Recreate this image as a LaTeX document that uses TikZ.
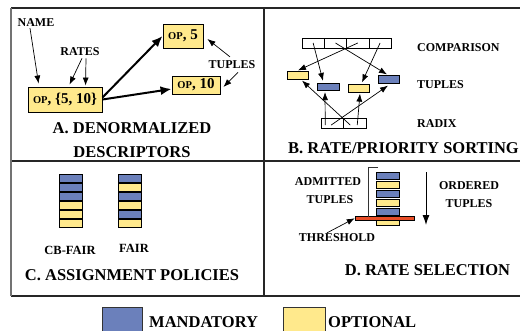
\documentclass[tikz,border=0pt]{standalone}
\usepackage{fontspec}
\setmainfont{Liberation Serif}
\usetikzlibrary{arrows.meta}

\definecolor{mand}{RGB}{107,128,187}
\definecolor{opt}{RGB}{255,233,140}
\definecolor{thrcol}{RGB}{232,78,40}

% small-capital "op" used inside the descriptor boxes
\newcommand{\opsc}{{\fontsize{10.5pt}{10.5pt}\selectfont OP}}

\begin{document}
\begin{tikzpicture}[x=1pt,y=-1pt,
  frame/.style={line width=1.1pt, draw=black!85},
  lbl/.style={inner sep=0pt, anchor=base, font=\fontsize{12pt}{12pt}\selectfont\bfseries},
  ttl/.style={inner sep=0pt, anchor=base, font=\fontsize{16.5pt}{16.5pt}\selectfont\bfseries},
  opbox/.style={draw=black, line width=0.9pt, fill=opt, inner sep=0pt,
                font=\fontsize{15pt}{15pt}\selectfont\bfseries},
  cell/.style={draw=black, line width=0.6pt, fill=white, minimum width=22.3pt,
               minimum height=10pt, inner sep=0pt},
  tup/.style={draw=black, line width=0.7pt, minimum width=22pt, minimum height=7.5pt, inner sep=0pt},
  mtup/.style={tup, fill=mand},
  otup/.style={tup, fill=opt},
  thin/.style={line width=0.7pt, -{Latex[length=8pt,width=6pt]}},
  thick/.style={line width=2pt, -{Latex[length=11pt,width=9pt]}},
]
\useasboundingbox (0,0) rectangle (520,330);
\clip (0,0) rectangle (520,330);

% ---- panel frame
\draw[frame] (11,8) -- (520,8);
\draw[frame] (11,161) -- (520,161);
\draw[frame] (11,296) -- (520,296);
\draw[frame] (264,8) -- (264,296);
\draw[line width=1.1pt, draw=black!55] (11,8) -- (11,296);

% ---- A. denormalized descriptors
\node[opbox, minimum width=74pt, minimum height=25pt] (d0) at (65,99.5) {\opsc, \{5, 10\}};
\node[opbox, minimum width=40pt, minimum height=24pt] (o5) at (183,36) {\opsc, 5};
\node[opbox, minimum width=48pt, minimum height=18pt] (o10) at (196,85) {\opsc, 10};

\node[lbl] (name) at (36,26) {NAME};
\node[lbl] (rates) at (80,55) {RATES};
\node[lbl] (tupA) at (232,68) {TUPLES};

\draw[thin] ([xshift=-6pt,yshift=-2pt]name.south) -- ([xshift=11pt,yshift=3pt]d0.north west);
\draw[thin] ([xshift=2pt,yshift=-3pt]rates.south) -- ([xshift=42pt,yshift=2pt]d0.north west);
\draw[thin] ([xshift=6pt,yshift=-3pt]rates.south) -- ([xshift=58pt,yshift=1pt]d0.north west);
\draw[thin] ([xshift=-2pt,yshift=3pt]tupA.north) -- ([xshift=4pt,yshift=-3pt]o5.east);
\draw[thin] ([xshift=6pt,yshift=-4pt]tupA.south) -- ([xshift=3pt,yshift=-2pt]o10.east);

\draw[thick] ([yshift=2pt]d0.east) -- (o5.west);
\draw[thick] (d0.east) -- ([yshift=-4pt]o10.west);

\node[ttl] (ta1) at (132,133) {A. DENORMALIZED};
\node[ttl] (ta2) at (132,157) {DESCRIPTORS};

% ---- B. rate/priority sorting
\foreach \i in {1,...,4}
  \node[cell] (c\i) at (302+22.3*\i-11.15,43) {};
\node[otup, minimum width=21pt] (t1) at (297.5,75.5) {};
\node[mtup] (t2) at (328,87) {};
\node[otup, minimum width=21pt] (t3) at (358.5,88.5) {};
\node[mtup, minimum width=21pt] (t4) at (388.5,79.5) {};
\node[cell, minimum width=22.5pt] (r1) at (332.25,123) {};
\node[cell, minimum width=22.5pt] (r2) at (354.75,123) {};

\draw[thin] (c1.center) -- ([xshift=-5pt,yshift=2pt]t2.north);
\draw[thin] (c3.center) -- ([xshift=0.5pt,yshift=1pt]t1.north);
\draw[thin] (c2.center) -- ([xshift=-1.5pt,yshift=1pt]t4.north);
\draw[thin] (c4.center) -- ([xshift=3.5pt,yshift=2pt]t3.north);
\draw[thin] ([xshift=-7pt,yshift=-2pt]r1.center) -- ([xshift=-3pt,yshift=-1pt]t2.south);
\draw[thin] ([xshift=2.5pt,yshift=-2pt]r2.center) -- ([xshift=1.5pt,yshift=-1pt]t3.south);
\draw[thin] ([xshift=-4.5pt,yshift=-2pt]r2.center) -- ([xshift=4.5pt,yshift=-1pt]t1.south);
\draw[thin] ([xshift=-1pt,yshift=-2pt]r1.center) -- ([xshift=-0.5pt,yshift=-2pt]t4.south);

\node[lbl, anchor=base west] (lcmp) at (417,51) {COMPARISON};
\node[lbl, anchor=base west] (ltup) at (417,88) {TUPLES};
\node[lbl, anchor=base west] (lrad) at (417,127) {RADIX};
\node[ttl] (tb) at (403.5,153) {B. RATE/PRIORITY SORTING};

% ---- C. assignment policies
\foreach \c [count=\i from 0] in {mand,mand,mand,opt,opt,opt}
  \node[tup, minimum width=23pt, fill=\c] (cb\i) at (70.5,178.5+9*\i) {};
\foreach \c [count=\i from 0] in {mand,opt,mand,opt,mand,opt}
  \node[tup, minimum width=23pt, fill=\c] (fa\i) at (129.5,178.5+9*\i) {};
\node[lbl, font=\fontsize{12.5pt}{12.5pt}\selectfont\bfseries] (lcb) at (70,254) {CB-FAIR};
\node[lbl, font=\fontsize{12.5pt}{12.5pt}\selectfont\bfseries] (lfa) at (134,252) {FAIR};
\node[ttl] (tc) at (132,280) {C. ASSIGNMENT POLICIES};

% ---- D. rate selection
\foreach \c [count=\i from 0] in {mand,opt,mand,opt,mand}
  \node[tup, minimum width=23pt, fill=\c] (ad\i) at (387.5,175.8+9*\i) {};
\node[tup, minimum width=23pt, fill=opt] (rj) at (387.5,221.5) {};
\node[draw=black, line width=0.5pt, fill=thrcol, minimum width=59pt, minimum height=3.5pt,
      inner sep=0pt] (thr) at (384.5,218.25) {};
\draw[line width=0.7pt, black!80] (378,167) -- (368,167) -- (368,216.5);

\node[lbl] (ladm) at (328,185) {ADMITTED};
\node[lbl] (ladt) at (330,203) {TUPLES};
\node[lbl] (lthr) at (337,241) {THRESHOLD};
\node[lbl] (lord) at (469,189) {ORDERED};
\node[lbl] (lort) at (469,207) {TUPLES};
\draw[thin] ([xshift=-10pt]lthr.north) -- (thr.west);

\coordinate (ordtop) at (426,172);
\coordinate (ordbot) at (426,225);
\draw[line width=1pt, -{Latex[length=10pt,width=7pt]}] (ordtop) -- (ordbot);

\node[ttl] (td) at (427.5,275) {D. RATE SELECTION};

% ---- legend
\node[draw=black!80, line width=0.8pt, fill=mand, minimum width=40pt, minimum height=30pt,
      inner sep=0pt] (kmand) at (122,322) {};
\node[draw=black!80, line width=0.8pt, fill=opt, minimum width=42pt, minimum height=30pt,
      inner sep=0pt] (kopt) at (304,322) {};
\node[ttl, anchor=base west] (lmand) at (149,327.5) {MANDATORY};
\node[ttl, anchor=base west] (lopt) at (328,327.5) {OPTIONAL};
\end{tikzpicture}
\end{document}
